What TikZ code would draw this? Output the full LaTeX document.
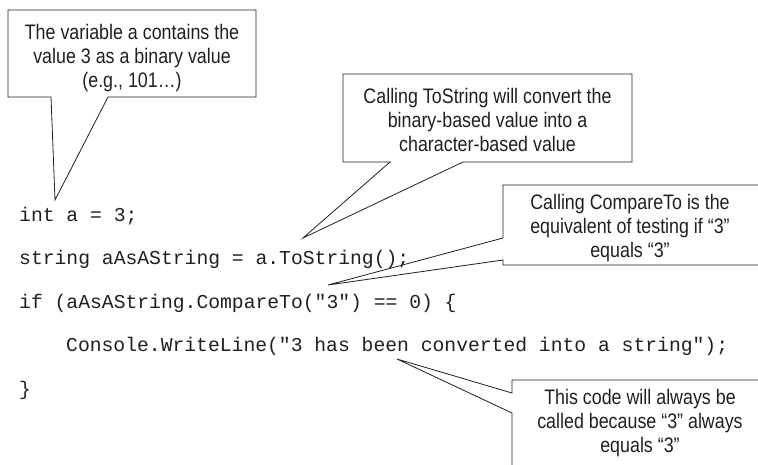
\documentclass[tikz,border=0pt]{standalone}
\usepackage{fontspec}
\setmainfont{Liberation Sans}[FakeStretch=0.85]
\newfontfamily\codefont{Liberation Mono}
\definecolor{ink}{RGB}{35,31,32}

\begin{document}
\begin{tikzpicture}[x=1pt,y=-1pt,
  note/.style={font=\fontsize{21}{24}\selectfont, align=center, inner sep=0pt,
               anchor=base, text=ink},
  code/.style={font=\codefont\fontsize{19.7}{24}\selectfont, inner sep=0pt,
               anchor=base west, text=ink},
  callout/.style={draw=ink, line width=0.8pt, line join=miter}]
\useasboundingbox[fill=white] (0,0) rectangle (758,464);

% source listing
\node[code] (l1) at (19,221)   {int a = 3;};
\node[code] (l2) at (19,264.5) {string aAsAString = a.ToString();};
\node[code] (l3) at (19,308)   {if (aAsAString.CompareTo("3") == 0) \{};
\node[code] (l4) at (66,351.5) {Console.WriteLine("3 has been converted into a string");};
\node[code] (l5) at (19,395)   {\}};

% callout tips
\coordinate (t1) at (55,200);
\coordinate (t2) at (303,238);
\coordinate (t3) at (328,285);
\coordinate (t4) at (397,359);

% callout outlines
\draw[callout] (8,10) -- (256,10) -- (256,97) -- (108,97) -- (t1) -- (51,97) -- (8,97) -- cycle;
\draw[callout] (343,74) -- (632,74) -- (632,162) -- (463,162) -- (t2) -- (390,162) -- (343,162) -- cycle;
\draw[callout] (503,185) -- (770,185) -- (770,265) -- (503,265) -- (503,260) -- (t3) -- (503,238) -- cycle;
\draw[callout] (512,380) -- (780,380) -- (780,480) -- (512,480) -- (512,413) -- (t4) -- (512,393) -- cycle;

% callout texts (base anchor sits on the last line)
\node[note] (n1) at (132,87)    {The variable a contains the\\value 3 as a binary value\\(e.g., 101…)};
\node[note] (n2) at (487.5,151) {Calling ToString will convert the\\binary-based value into a\\character-based value};
\node[note] (n3) at (630,257)   {Calling CompareTo is the\\equivalent of testing if “3”\\equals “3”};
\node[note] (n4) at (640,452)   {This code will always be\\called because “3” always\\equals “3”};
\end{tikzpicture}
\end{document}
